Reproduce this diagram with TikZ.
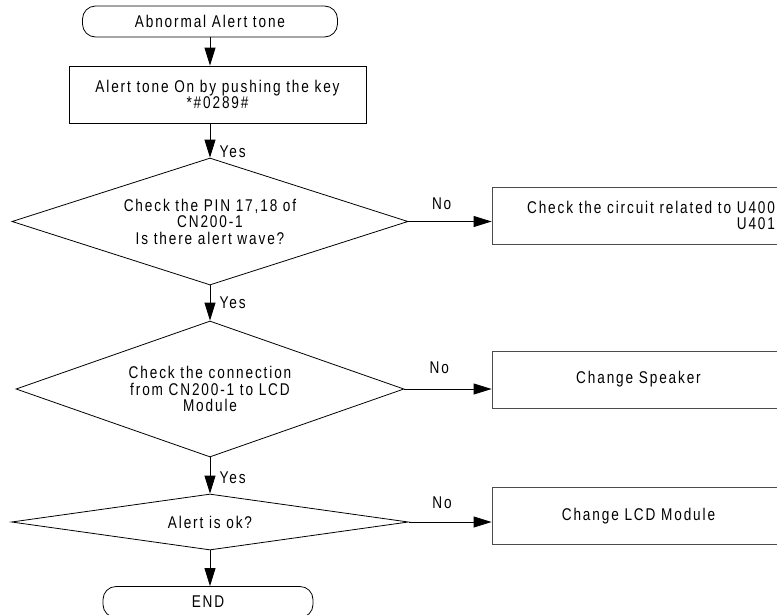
\documentclass[tikz,border=0pt]{standalone}
\usepackage{fontspec}
\setmainfont{Liberation Sans}[FakeStretch=0.8,LetterSpace=11]
\usetikzlibrary{shapes.geometric,arrows.meta}
\tikzset{flow/.style={->,>={Triangle[length=18pt,width=11pt]}},
  term/.style={draw,rounded corners=13pt,minimum width=255pt,minimum height=31pt,inner sep=0pt},
  procbox/.style={draw,minimum height=57pt,inner sep=0pt,align=center},
  sidebox/.style={draw=black!70,minimum width=293pt,minimum height=57pt,text width=273pt,inner sep=10pt},
  decision/.style={draw,diamond,inner sep=0pt,aspect=3,align=center}}

\begin{document}
\begin{tikzpicture}[x=1pt,y=-1pt,line width=0.8pt,font=\fontsize{17}{16.5}\selectfont]
    \useasboundingbox (0,0) rectangle (777,614);
    \clip (0,0) rectangle (777,614);
    \node[term] (start) at (210,21.5) {Abnormal Alert tone};
    \node[procbox,minimum width=297pt] (key) at (217.5,94.5) {Alert tone On by pushing the key\\*\#0289\#};
    \node[decision,minimum width=396pt,minimum height=127pt] (pin) at (210,221.5) {Check the PIN 17,18 of\\CN200-1\\Is there alert wave?};
    \node[sidebox,align=right] (u400) at (638.5,215.5) {Check the circuit related to U400\\U401};
    \node[decision,minimum width=388pt,minimum height=136pt] (conn) at (210,389) {Check the connection\\from CN200-1 to LCD\\Module};
    \node[sidebox,align=center] (spk) at (638.5,379.5) {Change Speaker};
    \node[decision,aspect=7,minimum width=397pt,minimum height=56pt] (ok) at (210,522) {Alert is ok?};
    \node[sidebox,align=center] (lcd) at (638.5,516) {Change LCD Module};
    \node[term,minimum width=210pt] (end) at (208,602) {END};
    \draw[flow] (start.south) -- (start.south |- key.north);
    \draw[flow] (key.south -| pin.north) -- (pin.north) node[pos=0.83,right=6pt] {Yes};
    \draw[flow] (pin.south) -- (conn.north) node[pos=0.5,right=6pt] {Yes};
    \draw[flow] (conn.south) -- (ok.north) node[pos=0.57,right=6pt] {Yes};
    \draw[flow] (ok.south) -- (ok.south |- end.north);
    \draw[flow] (pin.east) -- (pin.east -| u400.west) node[pos=0.4,above=8pt] {No};
    \draw[flow] (conn.east) -- (conn.east -| spk.west) node[pos=0.4,above=12pt] {No};
    \draw[flow] (ok.east) -- (ok.east -| lcd.west) node[pos=0.4,above=10pt] {No};
\end{tikzpicture}
\end{document}
